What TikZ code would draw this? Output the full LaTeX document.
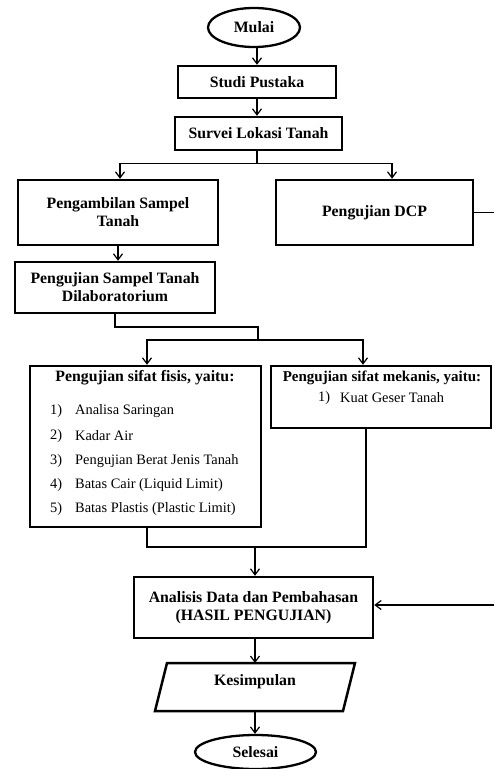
\documentclass[tikz,border=0pt]{standalone}
\usepackage{fontspec}
\setmainfont{Liberation Serif}
\usetikzlibrary{arrows.meta,shapes.geometric}
\begin{document}
\begin{tikzpicture}[x=1pt,y=-1pt,
  box/.style={draw,line width=2.5pt,rectangle,inner sep=0pt,align=center,font=\bfseries\fontsize{15.8}{18}\selectfont},
  term/.style={draw,line width=2.3pt,ellipse,inner sep=0pt,font=\bfseries\fontsize{15.8}{18}\selectfont},
  conn/.style={line width=1.2pt},
  arr/.style={conn,-{Straight Barb[length=6pt,width=9pt,line width=1.2pt]}},
  ttl/.style={inner sep=0pt,font=\bfseries\fontsize{15.8}{18}\selectfont},
  itm/.style={inner sep=0pt,anchor=west,font=\fontsize{14.4}{17}\selectfont},
]
\useasboundingbox (0,0) rectangle (494,769);

\node[term,minimum width=92,minimum height=39] (mulai) at (254,27.5) {Mulai};
\node[box,minimum width=158,minimum height=32] (studi) at (257,82) {Studi Pustaka};
\node[box,minimum width=167,minimum height=33] (survei) at (258.5,133.5) {Survei Lokasi Tanah};
\node[box,minimum width=200,minimum height=65] (ambil) at (118,212.5) {Pengambilan Sampel\\Tanah};
\node[box,minimum width=197,minimum height=65] (dcp) at (374.5,212.5) {Pengujian DCP};
\node[box,minimum width=200,minimum height=51] (lab) at (115,287.5) {Pengujian Sampel Tanah\\Dilaboratorium};
\node[box,minimum width=231,minimum height=161] (fisis) at (145.5,446.5) {};
\node[box,minimum width=220,minimum height=62] (mekanis) at (381,397) {};
\node[box,minimum width=239,minimum height=61] (analisis) at (253.5,607.5) {Analisis Data dan Pembahasan\\(HASIL PENGUJIAN)};
\draw[line width=2.5pt] (167,663) coordinate (kesTL) -- (355,663) -- (343,711) -- (155,711) -- cycle;
\coordinate (kesT) at (255,663);
\coordinate (kesB) at (255,711);
\node[ttl] (kes) at (255,682) {Kesimpulan};
\node[term,minimum width=121,minimum height=34] (selesai) at (255.5,752) {Selesai};

% fisis contents
\node[ttl] (fisisT) at (145,378) {Pengujian sifat fisis, yaitu:};
\node[itm] (n1) at (50,411) {1)};
\node[itm] (t1) at (75,411) {Analisa Saringan};
\node[itm] (n2) at (50,436) {2)};
\node[itm] (t2) at (75,436) {Kadar Air};
\node[itm] (n3) at (50,461) {3)};
\node[itm] (t3) at (75,461) {Pengujian Berat Jenis Tanah};
\node[itm] (n4) at (50,485.5) {4)};
\node[itm] (t4) at (75,485.5) {Batas Cair (Liquid Limit)};
\node[itm] (n5) at (50,509.5) {5)};
\node[itm] (t5) at (75,509.5) {Batas Plastis (Plastic Limit)};

% mekanis contents
\node[ttl,font=\bfseries\fontsize{15}{18}\selectfont] (mekT) at (382,378) {Pengujian sifat mekanis, yaitu:};
\node[itm] (m1) at (318,398) {1)};
\node[itm] (mt1) at (340,398) {Kuat Geser Tanah};

% connectors
\draw[arr] (studi.north |- mulai.south) -- (studi.north);
\draw[arr] (studi.south) -- (studi.south |- survei.north);
\coordinate (j1) at (257,163.5);
\draw[conn] (survei.south -| j1) -- (j1);
\draw[arr] (j1) -| ([xshift=2pt]ambil.north);
\draw[arr] (j1) -| ([xshift=17.5pt]dcp.north);
\draw[arr] (ambil.south) -- (ambil.south |- lab.north);
\coordinate (k2) at (258,327);
\coordinate (j2) at (258,340);
\draw[conn] (lab.south) |- (k2) -- (j2);
\draw[arr] (j2) -| ([xshift=1.5pt]fisis.north);
\draw[arr] (j2) -| ([xshift=-18pt]mekanis.north);
\coordinate (j3) at (255,547);
\draw[conn] ([xshift=1.5pt]fisis.south) |- ([xshift=-15pt]mekanis.south |- j3) -- ([xshift=-15pt]mekanis.south);
\draw[arr] (j3) -- (analisis.north -| j3);
\coordinate (eR1) at (494,212.5);
\draw[conn] (dcp.east) -- (eR1);
\coordinate (eR2) at (494,605);
\draw[arr] (eR2) -- (analisis.east |- eR2);
\draw[arr] (analisis.south -| kesT) -- (kesT);
\draw[arr] (kesB) -- (selesai.north -| kesB);
\end{tikzpicture}
\end{document}
